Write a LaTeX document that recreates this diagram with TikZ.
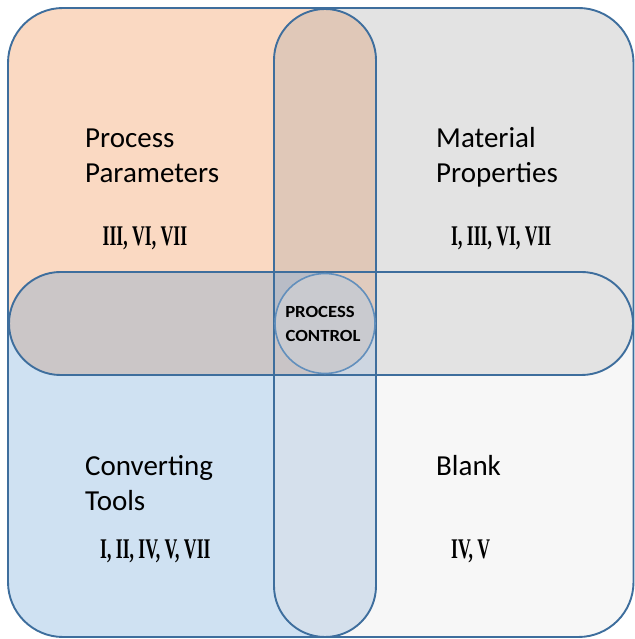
\documentclass[tikz,border=0pt]{standalone}
\usepackage{fontspec}
\setmainfont{Carlito}
\newfontfamily\numfont[FakeStretch=0.62]{Liberation Serif}
\newfontfamily\pcfont[FakeStretch=1.1]{Carlito}
\definecolor{qTL}{RGB}{250,217,194}
\definecolor{qTR}{RGB}{227,227,227}
\definecolor{qBL}{RGB}{207,225,242}
\definecolor{qBR}{RGB}{247,247,247}
\definecolor{vTop}{RGB}{224,200,184}
\definecolor{vBot}{RGB}{213,224,236}
\definecolor{hLeft}{RGB}{203,198,199}
\definecolor{hRight}{RGB}{227,227,227}
\definecolor{cTL}{RGB}{184,188,198}
\definecolor{cTR}{RGB}{224,203,190}
\definecolor{cBL}{RGB}{201,196,198}
\definecolor{cBR}{RGB}{205,214,225}
\definecolor{circFill}{RGB}{201,202,207}
\definecolor{edge}{RGB}{62,110,157}
\definecolor{circEdge}{RGB}{98,143,188}
\tikzset{
  outline/.style={draw=edge, line width=1.9pt},
  label/.style={inner sep=0pt, anchor=base west, font=\fontsize{29}{35}\selectfont, text=black},
  numerals/.style={inner sep=0pt, anchor=base west, font=\numfont\bfseries\fontsize{28.5}{32}\selectfont, text=black},
  pclabel/.style={inner sep=0pt, anchor=base, font=\pcfont\bfseries\fontsize{17}{20}\selectfont, text=black}
}
\begin{document}
\begin{tikzpicture}[x=1pt,y=1pt]
\useasboundingbox (0,0) rectangle (634,639);
\fill[white] (0,0) rectangle (634,639);
% quadrants
\begin{scope}
  \clip[rounded corners=55pt] (8,2) rectangle (633.5,631);
  \fill[qTL] (0,315) rectangle (325,640);
  \fill[qTR] (325,315) rectangle (640,640);
  \fill[qBL] (0,0) rectangle (325,315);
  \fill[qBR] (325,0) rectangle (640,315);
\end{scope}
% vertical pill
\begin{scope}
  \clip[rounded corners=51pt] (274,2) rectangle (376,630);
  \fill[vTop] (270,315) rectangle (380,640);
  \fill[vBot] (270,0) rectangle (380,315);
\end{scope}
% horizontal pill
\begin{scope}
  \clip[rounded corners=51.5pt] (9,264) rectangle (633,367);
  \fill[hLeft] (0,260) rectangle (325,370);
  \fill[hRight] (325,260) rectangle (640,370);
\end{scope}
% center square
\fill[cTL] (274,315) rectangle (325,367);
\fill[cTR] (325,315) rectangle (376,367);
\fill[cBL] (274,264) rectangle (325,315);
\fill[cBR] (325,264) rectangle (376,315);
% circle
\fill[circFill] (325,315.5) circle[radius=50pt];
% outlines
\draw[outline, rounded corners=55pt] (8,2) rectangle (633.5,631);
\draw[outline, rounded corners=51pt] (274,2) rectangle (376,630);
\draw[outline, rounded corners=51.5pt] (9,264) rectangle (633,367);
\draw[draw=circEdge, line width=1.6pt] (325,315.5) circle[radius=50pt];
% texts
\node[label] (pp1) at (85,491) {Process};
\node[label] (pp2) at (85,456) {Parameters};
\node[numerals] (ppn) at (102.5,393.5) {III, VI, VII};
\node[label] (mp1) at (436,491) {Material};
\node[label] (mp2) at (436,456) {Properties};
\node[numerals] (mpn) at (451,393.5) {I, III, VI, VII};
\node[label] (ct1) at (85,163) {Converting};
\node[label] (ct2) at (85,128) {Tools};
\node[numerals] (ctn) at (100,80) {I, II, IV, V, VII};
\node[label] (bl1) at (436,163) {Blank};
\node[numerals] (bln) at (451,80) {IV, V};
\node[pclabel] (pc1) at (320,321) {PROCESS};
\node[pclabel] (pc2) at (323,297) {CONTROL};
\end{tikzpicture}
\end{document}
